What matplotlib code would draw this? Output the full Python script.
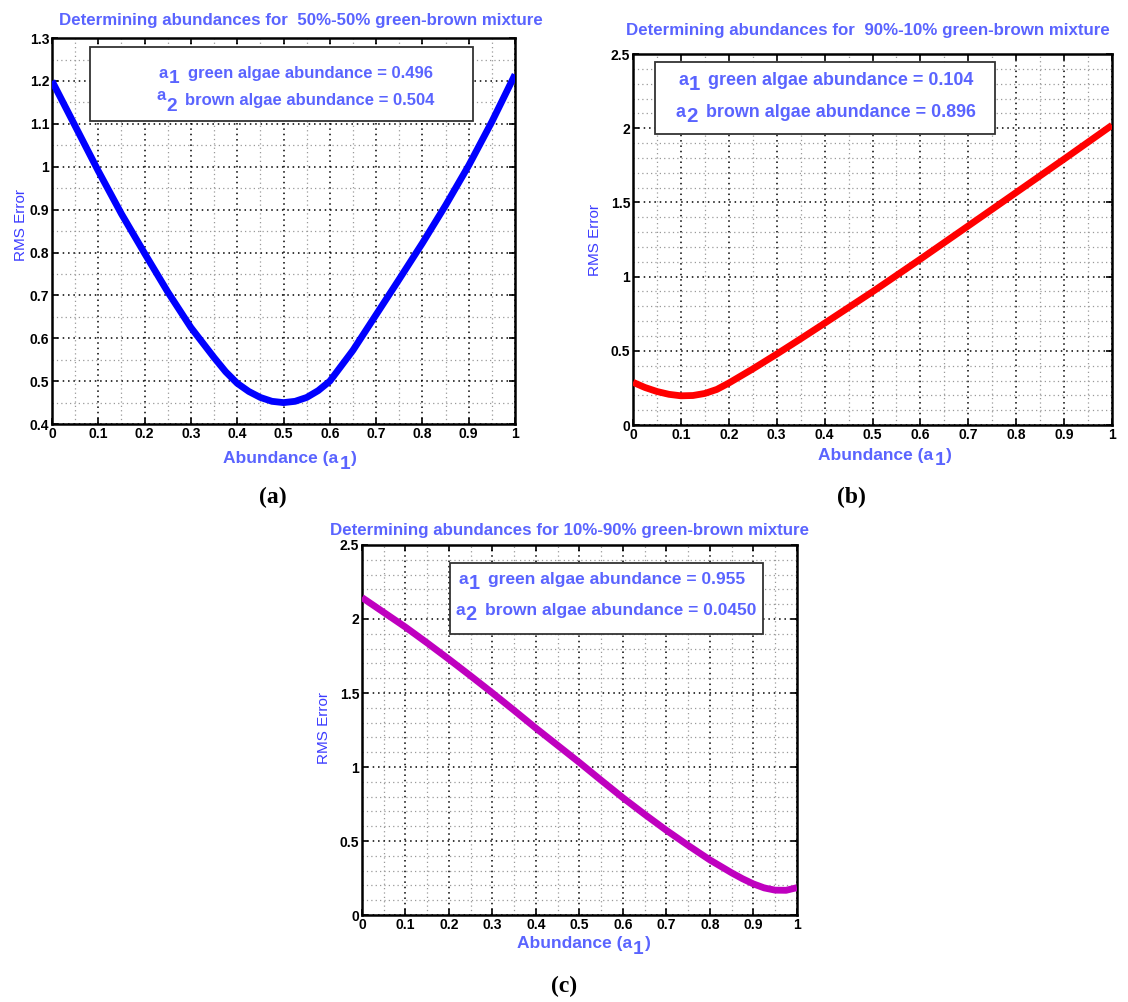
import matplotlib
matplotlib.use("Agg")
import matplotlib.pyplot as plt
from matplotlib.patches import Rectangle
from matplotlib.ticker import MultipleLocator
from matplotlib.transforms import IdentityTransform

plt.rcParams['font.family'] = ['Liberation Sans', 'DejaVu Sans']
plt.rcParams['font.weight'] = 'bold'

# ---------------- data ----------------
x_a = [0.00, 0.05, 0.10, 0.15, 0.20, 0.25, 0.30, 0.35, 0.375, 0.40, 0.425, 0.45, 0.475, 0.50,
       0.525, 0.55, 0.575, 0.60, 0.65, 0.70, 0.75, 0.80, 0.85, 0.90, 0.95, 1.00]
rms_a = [1.200, 1.095, 0.990, 0.890, 0.798, 0.708, 0.625, 0.555, 0.522, 0.495, 0.476, 0.462,
         0.453, 0.450, 0.453, 0.462, 0.478, 0.500, 0.572, 0.655, 0.738, 0.822, 0.910, 1.003,
         1.105, 1.215]
x_b = [0.00, 0.025, 0.05, 0.075, 0.10, 0.125, 0.15, 0.175, 0.20, 0.25, 0.30, 0.35, 0.40,
       0.50, 0.60, 0.70, 0.80, 0.90, 1.00]
rms_b = [0.288, 0.253, 0.226, 0.207, 0.197, 0.199, 0.213, 0.240, 0.283, 0.378, 0.478, 0.581,
         0.686, 0.898, 1.118, 1.342, 1.567, 1.792, 2.020]
x_c = [0.00, 0.05, 0.10, 0.15, 0.20, 0.25, 0.30, 0.35, 0.40, 0.45, 0.50, 0.55, 0.60, 0.65,
       0.70, 0.75, 0.80, 0.85, 0.875, 0.90, 0.925, 0.95, 0.975, 1.00]
rms_c = [2.145, 2.045, 1.945, 1.838, 1.728, 1.615, 1.500, 1.382, 1.262, 1.146, 1.030, 0.910,
         0.792, 0.680, 0.572, 0.470, 0.372, 0.285, 0.245, 0.210, 0.183, 0.168, 0.167, 0.185]

titles = ["Determining abundances for  50%-50% green-brown mixture",
          "Determining abundances for  90%-10% green-brown mixture",
          "Determining abundances for 10%-90% green-brown mixture"]
a1_vals = ["0.496", "0.104", "0.955"]
a2_vals = ["0.504", "0.896", "0.0450"]
panel_labels = ["(a)", "(b)", "(c)"]

xticks = [0, 0.1, 0.2, 0.3, 0.4, 0.5, 0.6, 0.7, 0.8, 0.9, 1]
xtick_labels = ["0", "0.1", "0.2", "0.3", "0.4", "0.5", "0.6", "0.7", "0.8", "0.9", "1"]
yticks_a = [0.4, 0.5, 0.6, 0.7, 0.8, 0.9, 1.0, 1.1, 1.2, 1.3]
ytick_labels_a = ["0.4", "0.5", "0.6", "0.7", "0.8", "0.9", "1", "1.1", "1.2", "1.3"]
yticks_bc = [0, 0.5, 1.0, 1.5, 2.0, 2.5]
ytick_labels_bc = ["0", "0.5", "1", "1.5", "2", "2.5"]

TXT = '#5a64ff'

fig = plt.figure(figsize=(11.28, 10.02), dpi=100)
renderer = fig.canvas.get_renderer()


def draw_pieces(ax, x, y, pieces, fs, color, align='left', z=6):
    """pieces: (text, dy_points, gap_px_before, size_scale)"""
    X, Y = ax.transAxes.transform((x, y))
    objs = []
    total = 0.0
    for s, dy, gap, sc in pieces:
        t = ax.text(0, 0, s, transform=IdentityTransform(), fontsize=fs * sc, color=color,
                    fontweight='bold', ha='left', va='baseline', zorder=z)
        w = t.get_window_extent(renderer=renderer).width
        objs.append((t, dy, gap, w))
        total += gap + w
    cur = X - total / 2 if align == 'center' else X
    for t, dy, gap, w in objs:
        cur += gap
        t.set_position((cur, Y + dy * fig.dpi / 72.0))
        cur += w


specs = [
    dict(rect=[0.0461, 0.5768, 0.4105, 0.3852], x=x_a, y=rms_a, color='#0000ff',
         ylim=(0.4, 1.3), yt=yticks_a, ytl=ytick_labels_a, ymin=0.05,
         box=(0.082, 0.785, 0.827, 0.192), l1=(0.231, 0.896), l2=(0.225, 0.826), a2dy=3.6,
         bfs=12.0, title=(0.538, 1.034), xl=(0.514, -0.102), yl=(-0.051, 0.516),
         lab=(0.242, 0.504)),
    dict(rect=[0.5612, 0.5758, 0.4246, 0.3703], x=x_b, y=rms_b, color='#ff0000',
         ylim=(0, 2.5), yt=yticks_bc, ytl=ytick_labels_bc, ymin=0.1,
         box=(0.046, 0.784, 0.710, 0.194), l1=(0.094, 0.916), l2=(0.088, 0.830), a2dy=0.0,
         bfs=12.85, title=(0.49, 1.052), xl=(0.526, -0.094), yl=(-0.065, 0.499),
         lab=(0.755, 0.504)),
    dict(rect=[0.3209, 0.0868, 0.3856, 0.3693], x=x_c, y=rms_c, color='#bf00bf',
         ylim=(0, 2.5), yt=yticks_bc, ytl=ytick_labels_bc, ymin=0.1,
         box=(0.202, 0.759, 0.720, 0.192), l1=(0.221, 0.895), l2=(0.214, 0.811), a2dy=0.0,
         bfs=12.5, title=(0.478, 1.027), xl=(0.51, -0.089), yl=(-0.071, 0.505),
         lab=(0.5, 0.016)),
]

for i, s in enumerate(specs):
    ax = fig.add_axes(s['rect'])
    ax.plot(s['x'], s['y'], color=s['color'], lw=4.9, solid_capstyle='butt',
            solid_joinstyle='round', zorder=3)
    ax.set_xticks(xticks)
    ax.set_xticklabels(xtick_labels, fontsize=10, fontweight='bold')
    ax.xaxis.set_minor_locator(MultipleLocator(0.05))
    ax.set_yticks(s['yt'])
    ax.set_yticklabels(s['ytl'], fontsize=10, fontweight='bold')
    ax.yaxis.set_minor_locator(MultipleLocator(s['ymin']))
    ax.set_xlim(0, 1)
    ax.set_ylim(*s['ylim'])
    ax.grid(True, which='major', color='black', linestyle=(0, (1, 2.5)), lw=1.1)
    ax.grid(True, which='minor', color='#999999', linestyle=(0, (1, 2.5)), lw=0.9)
    ax.set_axisbelow(True)
    ax.tick_params(which='both', direction='in', top=True, right=True, length=4, width=1.2, pad=2)
    ax.tick_params(which='minor', length=0)
    for sp in ax.spines.values():
        sp.set_linewidth(1.8)
    ax.text(s['title'][0], s['title'][1], titles[i], transform=ax.transAxes, ha='center',
            va='baseline', color=TXT, fontsize=12.2, fontweight='bold')
    ax.set_ylabel("RMS Error", color='#3c3cff', fontsize=11, fontweight='normal')
    ax.yaxis.set_label_coords(s['yl'][0], s['yl'][1])
    # x label with full-size subscript
    draw_pieces(ax, s['xl'][0], s['xl'][1],
                [("Abundance (a", 0, 0, 1.0), ("1", -4.0, 1, 1.1), (")", 0, 1, 1.0)],
                12.5, TXT, align='center')
    bx, by, bw, bh = s['box']
    ax.add_patch(Rectangle((bx, by), bw, bh, transform=ax.transAxes, facecolor='white',
                           edgecolor='#333333', lw=1.3, zorder=5))
    fs = s['bfs']
    draw_pieces(ax, s['l1'][0], s['l1'][1],
                [("a", 0, 0, 1.0), ("1", -3.8, 1, 1.15),
                 ("green algae abundance = " + a1_vals[i], 0, 8, 1.0)], fs, TXT)
    draw_pieces(ax, s['l2'][0], s['l2'][1],
                [("a", s['a2dy'], 0, 1.0), ("2", -3.8, 1, 1.15),
                 ("brown algae abundance = " + a2_vals[i], 0, 8, 1.0)], fs, TXT)
    fig.text(s['lab'][0], s['lab'][1], panel_labels[i], ha='center', va='center',
             fontsize=17, fontweight='bold', family='Liberation Serif')

fig.savefig("out.png", dpi=100)
